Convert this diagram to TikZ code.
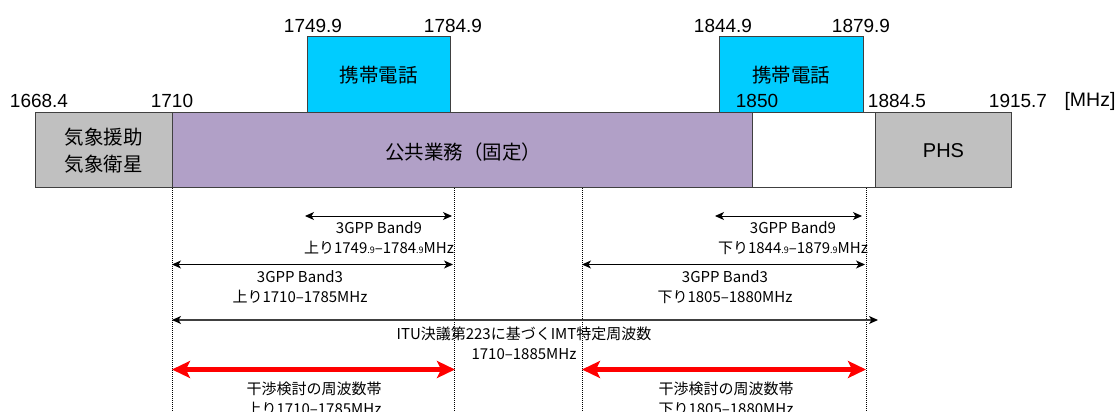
\documentclass[tikz,border=0pt]{standalone}
\usepackage{fontspec}
\setmainfont{Liberation Sans}
\newfontfamily\jp{Noto Sans CJK JP}
\usetikzlibrary{arrows.meta}
\definecolor{cellcyan}{HTML}{00CCFF}
\definecolor{bandgray}{HTML}{C0C0C0}
\definecolor{bandpurple}{HTML}{B1A0C7}
\definecolor{edgegray}{HTML}{404040}
\begin{document}
\begin{tikzpicture}[x=1pt,y=-1pt,
  band/.style={draw=edgegray,line width=1pt},
  bigjp/.style={font=\jp\fontsize{19.5}{24}\selectfont},
  freq/.style={font=\fontsize{19}{22}\selectfont,inner sep=0pt},
  small/.style={font=\jp\fontsize{15}{20}\selectfont,align=center,inner sep=0pt},
  guide/.style={line width=0.9pt,dash pattern=on 1pt off 1pt},
  span/.style={line width=1pt,{Stealth[length=9pt,width=8pt,inset=2.5pt,color=black]}-{Stealth[length=9pt,width=8pt,inset=2.5pt,color=black]}},
  redspan/.style={draw=red,line width=5pt,{Stealth[length=18pt,width=17pt,inset=4pt]}-{Stealth[length=18pt,width=17pt,inset=4pt]}}
]
\useasboundingbox (0,0) rectangle (1120,412);
\newcommand{\sm}[1]{{\fontsize{9}{9}\selectfont #1}}

% bands
\draw[band,fill=cellcyan] (307,37) rectangle (450,112);
\draw[band,fill=cellcyan] (719,37) rectangle (863,112);
\draw[band,fill=bandgray] (35,112) rectangle (172,187);
\draw[band,fill=bandpurple] (172,112) rectangle (752,187);
\draw[band,fill=white] (752,112) rectangle (875,187);
\draw[band,fill=bandgray] (875,112) rectangle (1011,187);

\node[bigjp] (cell1) at (378.5,75) {携帯電話};
\node[bigjp] (cell2) at (791,75) {携帯電話};
\node[bigjp,align=center,font=\jp\fontsize{19.5}{27}\selectfont] (met) at (103.5,151) {気象援助\\気象衛星};
\node[bigjp] (pub) at (463,152) {公共業務（固定）};
\node[font=\fontsize{20}{24}\selectfont] (phs) at (943.5,151) {PHS};

% frequency labels
\node[freq] (f1) at (313,26) {1749.9};
\node[freq] (f2) at (453,26) {1784.9};
\node[freq] (f3) at (723,26) {1844.9};
\node[freq] (f4) at (861,26) {1879.9};
\node[freq] (f5) at (39,101) {1668.4};
\node[freq] (f6) at (172,101) {1710};
\node[freq] (f7) at (757,101) {1850};
\node[freq] (f8) at (897,101) {1884.5};
\node[freq] (f9) at (1018,101) {1915.7};
\node[freq,font=\fontsize{19.5}{22}\selectfont] (f10) at (1090,101) {[MHz]};

% guides
\coordinate (g1t) at (172,188); \coordinate (g1b) at (172,412);
\coordinate (g2t) at (454,188); \coordinate (g2b) at (454,412);
\coordinate (g3t) at (582,188); \coordinate (g3b) at (582,412);
\coordinate (g4t) at (866,188); \coordinate (g4b) at (866,412);
\draw[guide] (g1t) -- (g1b);
\draw[guide] (g2t) -- (g2b);
\draw[guide] (g3t) -- (g3b);
\draw[guide] (g4t) -- (g4b);

% spans
\coordinate (b9ua) at (305,216); \coordinate (b9ub) at (452,216);
\coordinate (b9da) at (715,216); \coordinate (b9db) at (862,216);
\coordinate (b3ua) at (172,264.5); \coordinate (b3ub) at (453,264.5);
\coordinate (b3da) at (582,264.5); \coordinate (b3db) at (865,264.5);
\coordinate (itua) at (172,320); \coordinate (itub) at (878,320);
\coordinate (rua) at (172,369.5); \coordinate (rub) at (455,369.5);
\coordinate (rda) at (582,369.5); \coordinate (rdb) at (866,369.5);
\draw[span] (b9ua) -- (b9ub);
\draw[span] (b9da) -- (b9db);
\draw[span] (b3ua) -- (b3ub);
\draw[span] (b3da) -- (b3db);
\draw[span,draw=edgegray,line width=1.3pt] (itua) -- (itub);
\draw[redspan] (rua) -- (rub);
\draw[redspan] (rda) -- (rdb);

% span labels
\node[small] (t1) at (379,238) {3GPP Band9\\上り1749\sm{.9}–1784\sm{.9}MHz};
\node[small] (t2) at (793,238) {3GPP Band9\\下り1844\sm{.9}–1879\sm{.9}MHz};
\node[small] (t3) at (300,287) {3GPP Band3\\上り1710–1785MHz};
\node[small] (t4) at (725,287) {3GPP Band3\\下り1805–1880MHz};
\node[small] (t5) at (524,343) {ITU決議第223に基づくIMT特定周波数\\1710–1885MHz};
\node[small] (t6) at (314,399) {干渉検討の周波数帯\\上り1710–1785MHz};
\node[small] (t7) at (726,399) {干渉検討の周波数帯\\下り1805–1880MHz};
\end{tikzpicture}
\end{document}
